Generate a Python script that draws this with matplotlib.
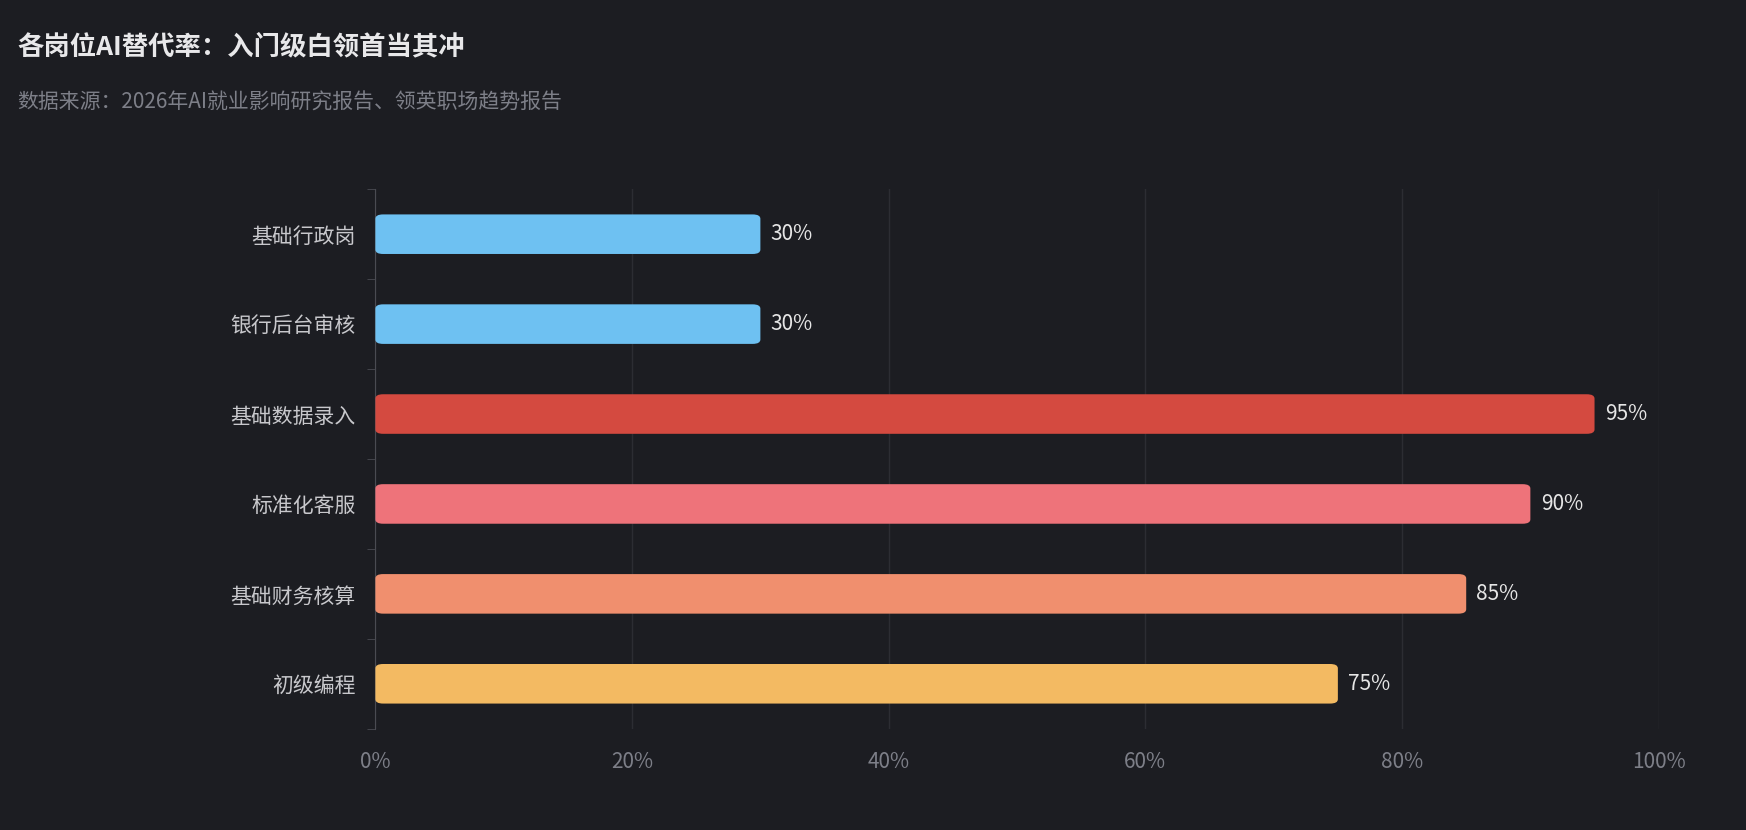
import matplotlib.pyplot as plt
from matplotlib.patches import FancyBboxPatch

plt.rcParams['font.family'] = ['Noto Sans CJK SC', 'DejaVu Sans']

categories = ["基础行政岗", "银行后台审核", "基础数据录入", "标准化客服", "基础财务核算", "初级编程"]
values = [30, 30, 95, 90, 85, 75]
colors = ["#6EC1F2", "#6EC1F2", "#D44A40", "#EE737A", "#F08F6E", "#F3BA62"]
xticks = [0, 20, 40, 60, 80, 100]
title = "各岗位AI替代率：入门级白领首当其冲"
subtitle = "数据来源：2026年AI就业影响研究报告、领英职场趋势报告"

bg = "#1C1D22"
fig = plt.figure(figsize=(17.46, 8.30), dpi=100, facecolor=bg)
ax = fig.add_axes([0.215, 0.122, 0.735, 0.650], facecolor=bg)

barH = 0.44
n = len(categories)
for i, (v, c) in enumerate(zip(values, colors)):
    y = n - 1 - i
    ax.add_patch(FancyBboxPatch((0, y - barH / 2), v, barH,
                                boxstyle="round,pad=0,rounding_size=0.6",
                                mutation_aspect=0.08, facecolor=c, edgecolor="none", zorder=3))
    ax.text(v + 0.8, y, f"{v}%", va="center", ha="left", fontsize=15, color="#E6E6E6", zorder=4)

ax.set_xlim(0, 100)
ax.set_ylim(-0.5, n - 0.5)
ax.set_yticks(range(n))
ax.set_yticklabels(categories[::-1], fontsize=15, color="#C8C8CC")
ax.tick_params(axis="y", length=0, pad=14)
ax.set_yticks([i - 0.5 for i in range(n + 1)], minor=True)
ax.tick_params(axis="y", which="minor", length=6, color="#4A4B52")
ax.set_xticks(xticks)
ax.set_xticklabels([f"{x}%" for x in xticks], fontsize=15, color="#7D7F88")
ax.tick_params(axis="x", length=0, pad=16)
ax.grid(axis="x", color="#2C2D33", linewidth=1, zorder=0)
for s in ["top", "right", "bottom"]:
    ax.spines[s].set_visible(False)
ax.spines["left"].set_color("#4A4B52")

fig.text(17 / 1746, 1 - 47 / 830, title, fontsize=19, fontweight="bold", color="#E8E8EA", va="center")
fig.text(17 / 1746, 1 - 103 / 830, subtitle, fontsize=15, color="#7D7F88", va="center")

fig.savefig("out.png", dpi=100, facecolor=bg)
